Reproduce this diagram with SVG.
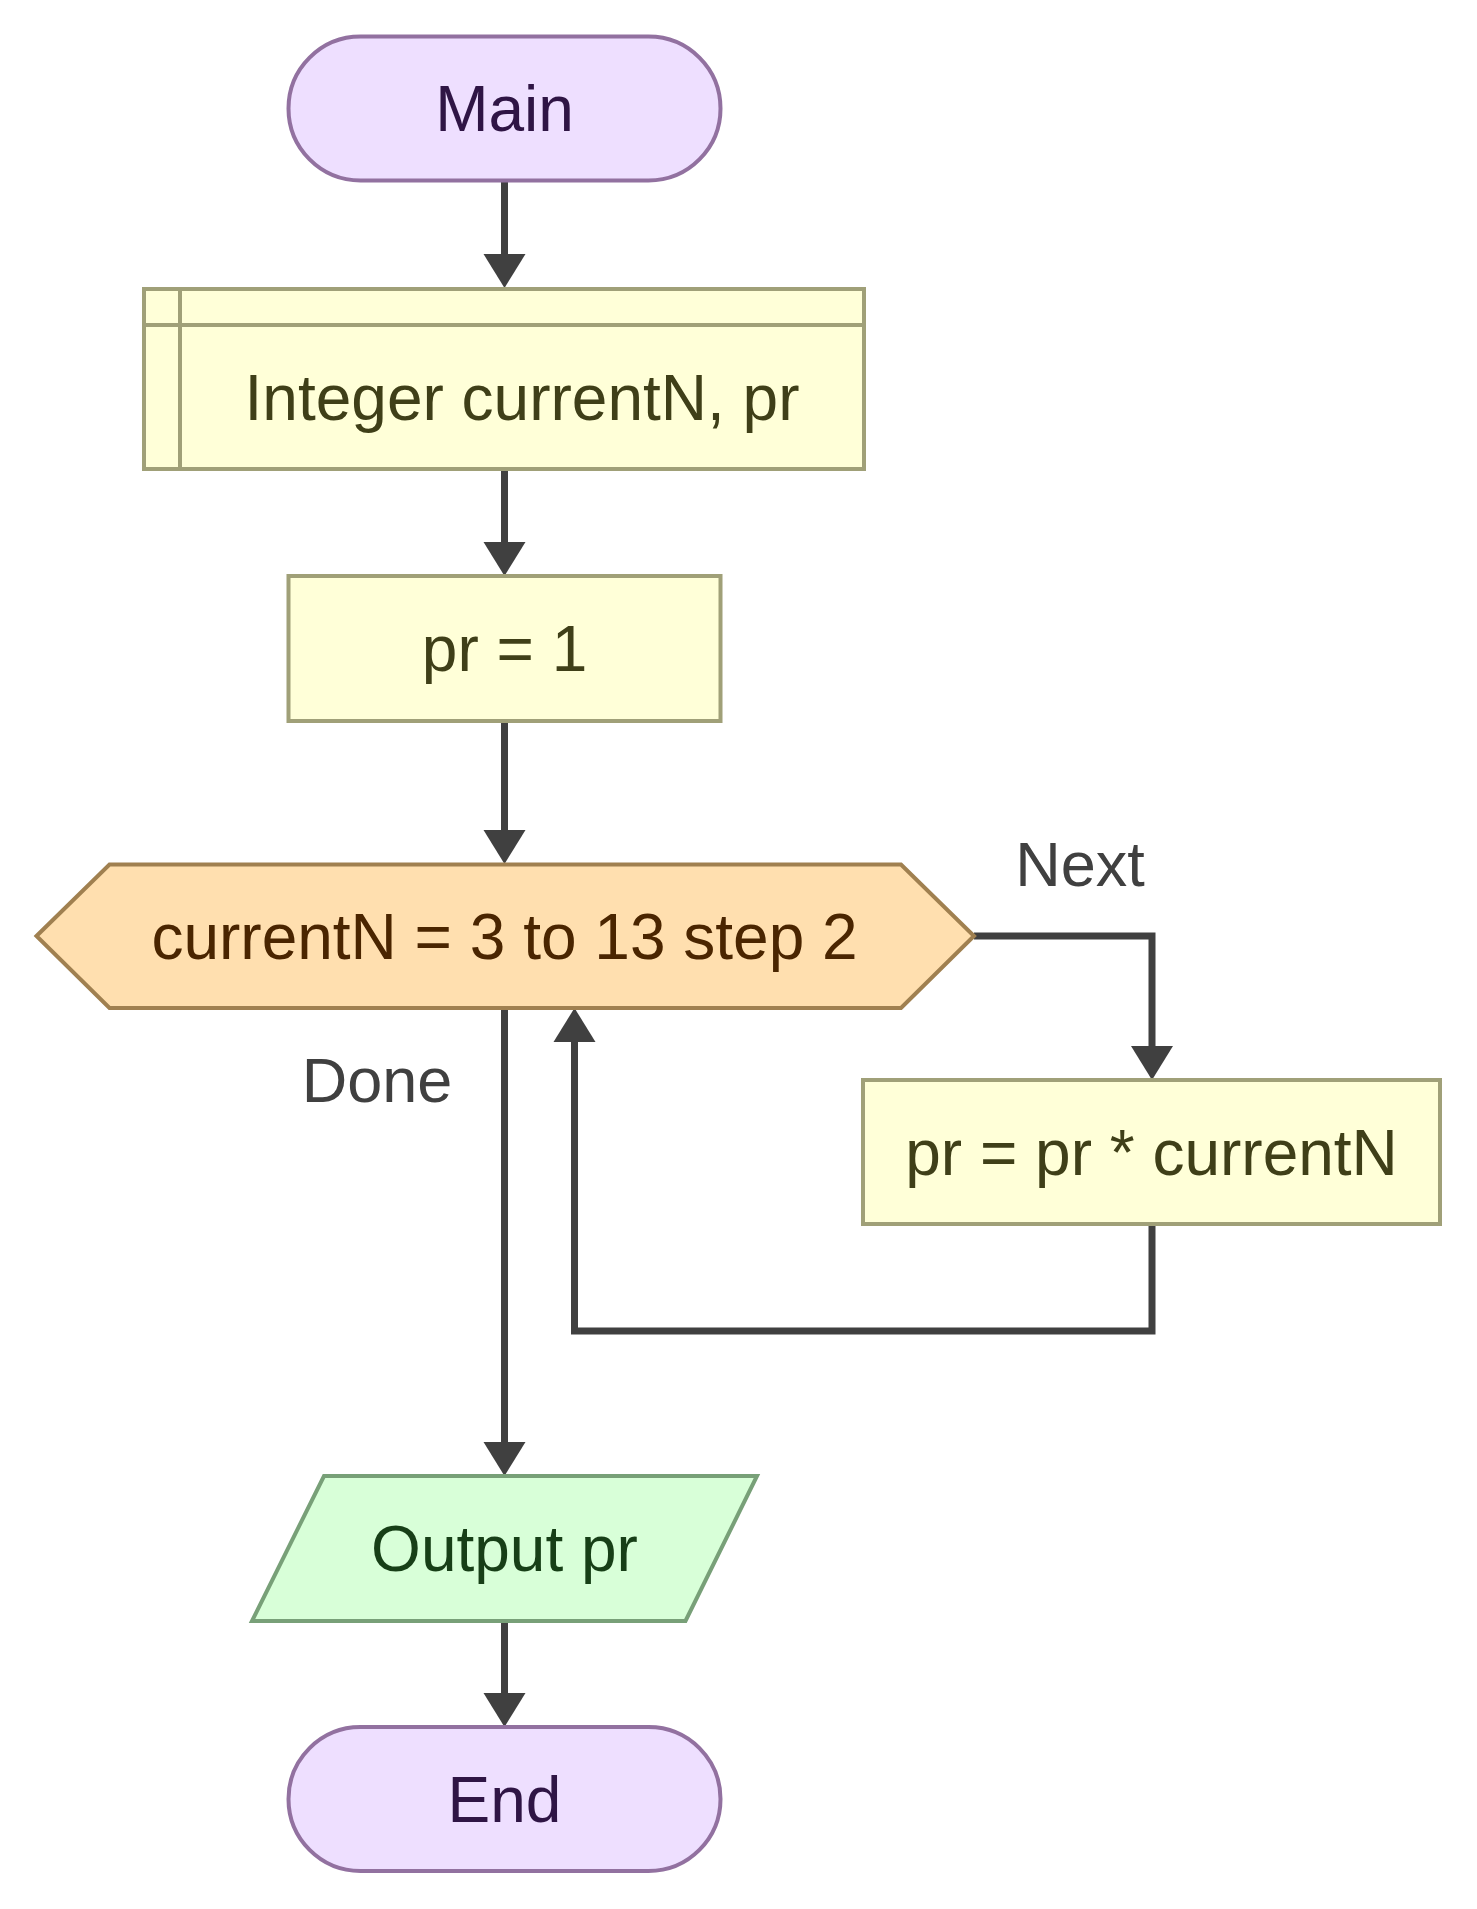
<svg xmlns="http://www.w3.org/2000/svg" width="1477" height="1909" viewBox="0 0 1477 1909">
<defs>
<style>
text{font-family:"Liberation Sans",Arial,sans-serif;font-size:64px;text-anchor:middle}
.term{fill:#EEDFFF;stroke:#9271A0;stroke-width:4}
.term-t{fill:#2F1545}
.proc{fill:#FFFFD8;stroke:#A0A078;stroke-width:4}
.proc-t{fill:#3F3F18}
.loop{fill:#FFDFAF;stroke:#A08050;stroke-width:4}
.loop-t{fill:#4A2500}
.io{fill:#D8FFD8;stroke:#78A078;stroke-width:4}
.io-t{fill:#173F17}
.edge{fill:none;stroke:#404040;stroke-width:7;marker-end:url(#arrow)}
.lbl{fill:#404040;font-size:63px}
</style>
<marker id="arrow" markerUnits="userSpaceOnUse" markerWidth="34" markerHeight="42" refX="0" refY="21" orient="auto" overflow="visible">
<path d="M0,0 L34,21 L0,42 Z" fill="#404040"/>
</marker>
</defs>
<rect width="1477" height="1909" fill="#FFFFFF"/>
<g id="connectors">
<path class="edge" d="M504.5,180 V254"/>
<path class="edge" d="M504.5,469 V542"/>
<path class="edge" d="M504.5,721 V830"/>
<path class="edge" d="M974,936 H1152 V1046"/>
<path class="edge" d="M1152,1224 V1331 H574.5 V1042"/>
<path class="edge" d="M504.5,1008 V1442"/>
<path class="edge" d="M504.5,1621 V1693"/>
<text class="lbl" x="1080" y="886">Next</text>
<text class="lbl" x="377" y="1102">Done</text>
</g>
<g id="main">
<rect class="term" x="288.5" y="36.5" width="432" height="144" rx="72"/>
<text class="term-t" x="504.5" y="131">Main</text>
</g>
<g id="declare">
<rect class="proc" x="144" y="289" width="720" height="180"/>
<line class="proc" x1="180" y1="289" x2="180" y2="469"/>
<line class="proc" x1="144" y1="325" x2="864" y2="325"/>
<text class="proc-t" x="522" y="420">Integer currentN, pr</text>
</g>
<g id="assign">
<rect class="proc" x="288.5" y="576" width="432" height="145"/>
<text class="proc-t" x="504.5" y="671">pr = 1</text>
</g>
<g id="for">
<polygon class="loop" points="36.5,936 109.5,864.5 901,864.5 974,936 901,1008 109.5,1008"/>
<text class="loop-t" x="504.5" y="959">currentN = 3 to 13 step 2</text>
</g>
<g id="multiply">
<rect class="proc" x="863" y="1080" width="577" height="144"/>
<text class="proc-t" x="1151.5" y="1175">pr = pr * currentN</text>
</g>
<g id="output">
<polygon class="io" points="324,1476 757,1476 685.5,1621 252,1621"/>
<text class="io-t" x="504.5" y="1571">Output pr</text>
</g>
<g id="end">
<rect class="term" x="288.5" y="1727" width="432" height="144" rx="72"/>
<text class="term-t" x="504.5" y="1822">End</text>
</g>
</svg>
